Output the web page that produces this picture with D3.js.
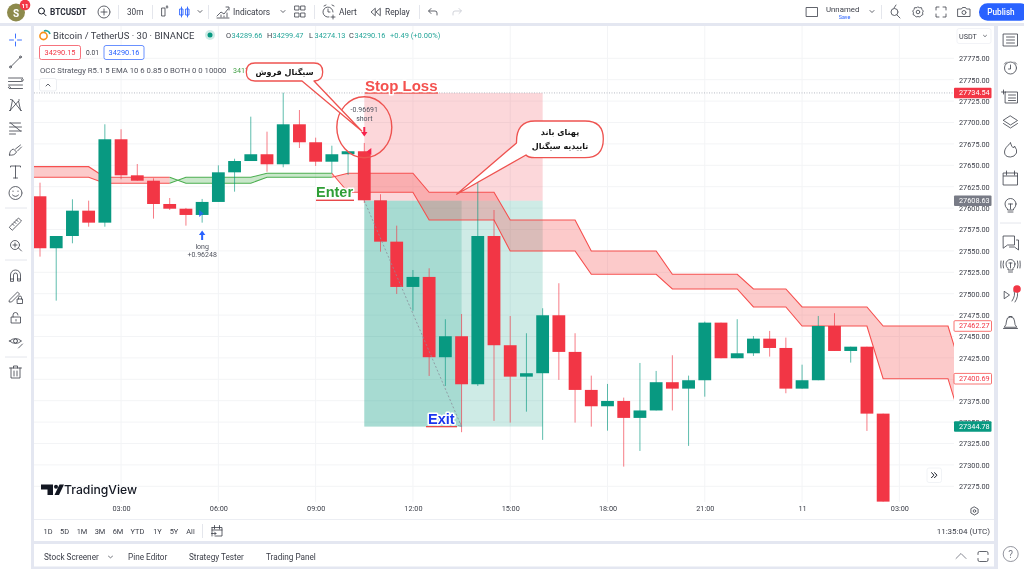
<!DOCTYPE html>
<html><head><meta charset="utf-8">
<style>
html,body{margin:0;padding:0;background:#fff;overflow:hidden}
svg{display:block;filter:blur(.3px)}
text{font-family:Roboto,"Noto Sans",sans-serif}
</style>
<script src="https://cdn.jsdelivr.net/npm/d3@7/dist/d3.min.js"></script>
</head><body><svg id="c" width="1024" height="569"></svg>
<script>
// ---------- data ----------
const opens  = [27613.8,27553.1,27567.4,27597,27583,27680.4,27638.3,27632,27604.8,27599.3,27592,27607.2,27641.8,27655,27662.9,27651.2,27697.9,27676.9,27654.2,27662.9,27666.4,27609.1,27560.8,27507.9,27519.6,27425.8,27450.3,27394.2,27567.4,27439.8,27403.1,27407.1,27474.8,27432,27387.6,27368.5,27374.7,27354.9,27363.6,27396.6,27389.1,27398.9,27466.2,27424.6,27430.4,27447.5,27436.6,27389.1,27398.9,27462.3,27433.1,27438.1,27359.9];
const highs  = [27629.7,27567.4,27610.3,27608.7,27697.9,27692.1,27651.5,27634.8,27611.8,27600.2,27610.7,27650,27657.7,27706.8,27689.3,27734.8,27714.6,27682.3,27672.9,27666.4,27676.1,27616.2,27579.5,27527.7,27529.7,27470.2,27476.3,27630.2,27597.8,27474,27453.8,27483,27512.2,27453.8,27404.3,27394.6,27378.6,27419.1,27409.8,27428.1,27404.3,27467.4,27466.2,27470.2,27450.6,27456.5,27448.7,27417.1,27474,27477.2,27438.1,27438.1,27359.9];
const lows   = [27543.3,27491.9,27558.9,27578.3,27578.3,27633.7,27632,27587.7,27597.8,27579.5,27583,27607.2,27619.2,27655,27642.5,27647.7,27670.2,27649.2,27640.7,27638.7,27606,27549.1,27499.7,27480.2,27403.9,27392.2,27338.2,27392.2,27351.4,27349.4,27362.2,27329.2,27399.3,27349.4,27344.7,27340,27298,27316.3,27363.6,27363.6,27322.2,27379.7,27424.6,27424.6,27427.3,27426.5,27383.7,27389.1,27398.9,27433.1,27419.5,27339.7,27257.1];
const closes = [27553.1,27567.4,27597,27583,27680.4,27638.3,27632,27604.8,27599.3,27592,27607.2,27641.8,27655,27662.9,27651.2,27697.9,27676.9,27654.2,27662.9,27666.4,27609.1,27560.8,27507.9,27519.6,27425.8,27450.3,27394.2,27567.4,27439.8,27403.1,27407.1,27474.8,27432,27387.6,27368.5,27374.7,27354.9,27363.6,27396.6,27389.1,27398.9,27466.2,27424.6,27430.4,27447.5,27436.6,27389.1,27398.9,27462.3,27433.1,27438.1,27359.9,27257.1];

const bandStepBars = [-1,4,9,14,19,24,29,34,39,44,47,52,57];
const bandLineA    = [27648.4,27636,27629,27636,27640.7,27618.5,27586.1,27549.9,27522.7,27505.5,27484.5,27462.27,27400.69];
const bandLineB    = [27636,27629,27636,27640.7,27618.5,27586.1,27549.9,27522.7,27505.5,27484.5,27462.27,27400.69,27339];
const bandTrend    = ["r","r","g","g","r","r","r","r","r","r","r","r","r"];

const priceTicks = [27775,27750,27725,27700,27675,27650,27625,27600,27575,27550,27525,27500,27475,27450,27425,27400,27375,27350,27325,27300,27275];
const timeTickBars = [5,11,17,23,29,35,41,47,53];
const timeTickLabels = ["03:00","06:00","09:00","12:00","15:00","18:00","21:00","11","03:00"];

const entryPrice = 27608.63, stopPrice = 27734.54, targetPrice = 27344.78;
const positionBars = [20,31], exitBar = 26;
const tagValues = [27734.54,27608.63,27462.27,27400.69,27344.78];
const tagKinds  = ["red","gray","outline","outline","green"];
const rangeLabels = ["1D","5D","1M","3M","6M","YTD","1Y","5Y","All"];
const bottomTabs = ["Stock Screener","Pine Editor","Strategy Tester","Trading Panel"];

// ---------- scales ----------
const x = d3.scaleLinear().domain([0,56]).range([40,948]);
const y = d3.scaleLinear().domain([27775,27275]).range([58.3,486.3]);
const GREEN="#089981", RED="#f23645", BLUE="#2962ff", INK="#3a3d47", LAV="#e4e7f1";

const svg = d3.select("#c");
svg.append("defs").append("clipPath").attr("id","cp").append("rect").attr("x",34).attr("y",26).attr("width",920).attr("height",476);

function R(g,a,b,w,h,f){return g.append("rect").attr("x",a).attr("y",b).attr("width",w).attr("height",h).attr("fill",f);}
function T(g,a,b,s,size,fill,anchor,weight){return g.append("text").attr("x",a).attr("y",b).text(s).attr("font-size",size).attr("fill",fill||INK).attr("text-anchor",anchor||"start").attr("font-weight",weight||400).attr("dominant-baseline","central");}
function I(g,a,b,d,c,w){return g.append("path").attr("transform",`translate(${a},${b})`).attr("d",d).attr("fill","none").attr("stroke",c||INK).attr("stroke-width",w||0.8).attr("stroke-linecap","round").attr("stroke-linejoin","round");}

// ---------- frame ----------
R(svg,0,23,1024,3,LAV); R(svg,31,23,3,546,LAV); R(svg,994,23,4,546,LAV);
R(svg,34,541,960,3,LAV); R(svg,34,566.5,960,2.5,LAV);
svg.append("line").attr("x1",34).attr("x2",994).attr("y1",519.5).attr("y2",519.5).attr("stroke","#eceef3");

// ---------- grid ----------
const grid = svg.append("g").attr("stroke","#f3f4f6").attr("stroke-width",1);
grid.selectAll("line.h").data(priceTicks).join(e=>e.append("line").attr("class","h")).attr("x1",34).attr("x2",954).attr("y1",d=>y(d)).attr("y2",d=>y(d));
grid.selectAll("line.v").data(timeTickBars).join(e=>e.append("line").attr("class","v")).attr("x1",d=>x(d)).attr("x2",d=>x(d)).attr("y1",26).attr("y2",502);

const plot = svg.append("g").attr("clip-path","url(#cp)");

// ---------- position tool ----------
const px0=x(positionBars[0]), px1=x(positionBars[1]);
R(plot,px0,y(stopPrice),px1-px0,y(entryPrice)-y(stopPrice),"#f23645").attr("opacity",.2);
R(plot,px0,y(entryPrice),px1-px0,y(targetPrice)-y(entryPrice),"#089981").attr("opacity",.2);
R(plot,px0,y(entryPrice),x(exitBar)-px0,y(targetPrice)-y(entryPrice),"#089981").attr("opacity",.2);
plot.append("line").attr("x1",34).attr("x2",954).attr("y1",y(stopPrice)).attr("y2",y(stopPrice))
  .attr("stroke","#b8bbc4").attr("stroke-width",1).attr("stroke-dasharray","1 1.5");

// ---------- band ----------
const pts=[];
bandStepBars.forEach((s,k)=>{const e=k+1<bandStepBars.length?bandStepBars[k+1]:s+1;for(let i=s;i<e;i++)pts.push({b:i,a:bandLineA[k],l:bandLineB[k],t:bandTrend[k]});});
const area=d3.area().x(d=>x(d.b)).y0(d=>y(d.a)).y1(d=>y(d.l));
const la=d3.line().x(d=>x(d.b)).y(d=>y(d.a)), lb=d3.line().x(d=>x(d.b)).y(d=>y(d.l));
const colourOf=t=>t==="g"?"#4caf50":"#f6504f";
const segs=[];
{let s=0;while(s<pts.length-1){const t=pts[s+1].t;let e=s+1;while(e<pts.length-1&&pts[e+1].t===t)e++;segs.push({t,p:pts.slice(s,e+1)});s=e;}}
const bandG=plot.append("g");
segs.forEach(sg=>{
  bandG.append("path").attr("d",area(sg.p)).attr("fill",colourOf(sg.t)).attr("opacity",.3);
  bandG.append("path").attr("d",la(sg.p)).attr("fill","none").attr("stroke",colourOf(sg.t)).attr("stroke-width",1.1);
  bandG.append("path").attr("d",lb(sg.p)).attr("fill","none").attr("stroke",colourOf(sg.t)).attr("stroke-width",1.1);
});

// ---------- candles ----------
const candles=opens.map((o,i)=>({i,o,h:highs[i],l:lows[i],c:closes[i]}));
const col=d=>d.c>=d.o?GREEN:RED;
const cg=plot.append("g");
cg.selectAll("line").data(candles).join("line").attr("x1",d=>x(d.i)).attr("x2",d=>x(d.i))
  .attr("y1",d=>y(d.h)).attr("y2",d=>y(d.l)).attr("stroke",col).attr("stroke-width",1).attr("opacity",.65);
cg.selectAll("rect").data(candles).join("rect").attr("x",d=>x(d.i)-6.4).attr("width",12.8)
  .attr("y",d=>y(Math.max(d.o,d.c))).attr("height",d=>Math.max(1,Math.abs(y(d.o)-y(d.c)))).attr("fill",col);

// position path
plot.append("line").attr("x1",px0).attr("y1",y(entryPrice)).attr("x2",x(exitBar)).attr("y2",y(targetPrice))
  .attr("stroke","#8a8e99").attr("stroke-width",.8).attr("stroke-dasharray","2 2");
I(plot,x(exitBar),y(targetPrice),"M-3,-1L0,0L-1,-3","#8a8e99",.8);

// ---------- strategy markers ----------
function arrow(g,a,b,dir,c){
  g.append("path").attr("d",`M${a-1},${b-5*dir}L${a+1},${b-5*dir}L${a+1},${b}L${a+3.2},${b}L${a},${b+4.5*dir}L${a-3.2},${b}L${a-1},${b}Z`).attr("fill",c);
}
const xLong=x(10), xShort=x(20);
arrow(svg,xLong,235,-1,BLUE);
T(svg,xLong,247,"long",7,"#50535e","middle");
T(svg,xLong,255,"+0.96248",7,"#50535e","middle");
T(svg,xShort,109.5,"-0.96691",7,"#50535e","middle");
T(svg,xShort,119,"short",7,"#50535e","middle");
arrow(svg,xShort,132,1,"#f7234b");
svg.append("path").attr("d",`M${xLong-3},210l4.5,3.5l-4.5,3.5z`).attr("fill",BLUE).attr("opacity",.8);
svg.append("path").attr("d",`M${xShort+7},148l-4.5,3.5l4.5,3.5z`).attr("fill","#f7234b");

// ---------- axes ----------
const ay=svg.append("g").attr("transform","translate(954,0)").call(d3.axisRight(y).tickValues(priceTicks).tickFormat(d3.format(".2f")).tickSize(0).tickPadding(5));
ay.select(".domain").remove(); ay.selectAll("text").attr("font-size",7.3).attr("fill",INK).style("font-family","Roboto");
const ax=svg.append("g").attr("transform","translate(0,503)").call(d3.axisBottom(x).tickValues(timeTickBars).tickFormat((d,i)=>timeTickLabels[i]).tickSize(0).tickPadding(3));
ax.select(".domain").remove(); ax.selectAll("text").attr("font-size",7.3).attr("fill",INK).style("font-family","Roboto");

// price tags: they sit over the axis labels they cover, as on the reference
const tg=svg.append("g");
tagValues.forEach((v,i)=>{
  const k=tagKinds[i],yy=y(v);
  const f=k==="red"?RED:k==="gray"?"#787b86":k==="green"?GREEN:"#fff";
  const r=R(tg,954,yy-5.3,37.5,10.6,f).attr("rx",1);
  if(k==="outline")r.attr("stroke","#f6504f").attr("stroke-width",.8);
  T(tg,959,yy,d3.format(".2f")(v),7.3,k==="outline"?"#f23645":"#fff");
});

// ---------- legend ----------
const lg=svg.append("g");
lg.append("circle").attr("cx",43.5).attr("cy",36).attr("r",3.6).attr("fill","none").attr("stroke","#f7931a").attr("stroke-width",1.6);
lg.append("path").attr("d","M44,31 A4.5,4.5 0 0 1 50,34").attr("fill","none").attr("stroke","#26a69a").attr("stroke-width",1.6);
T(lg,53,35.5,"Bitcoin / TetherUS · 30 · BINANCE",9.5,INK);
lg.append("circle").attr("cx",210).attr("cy",35).attr("r",5).attr("fill","#089981").attr("opacity",.2);
lg.append("circle").attr("cx",210).attr("cy",35).attr("r",2.5).attr("fill","#089981");
[["O","34289.66",226],["H","34299.47",267],["L","34274.13",309],["C","34290.16",349]].forEach(([k,v,a])=>{T(lg,a,35.5,k,7.4,INK);T(lg,a+5.5,35.5,v,7.4,"#26a69a");});
T(lg,390,35.5,"+0.49 (+0.00%)",7.5,"#26a69a");
R(lg,39.5,45.5,41,14,"#fff").attr("stroke","#f23645").attr("stroke-width",.7).attr("rx",2);
T(lg,60,52.8,"34290.15",7.4,"#f23645","middle");
T(lg,86,52.8,"0.01",6.6,INK);
R(lg,104,45.5,40,14,"#fff").attr("stroke",BLUE).attr("stroke-width",.7).attr("rx",2);
T(lg,124,52.8,"34290.16",7.4,BLUE,"middle");
T(lg,40,70,"OCC Strategy R5.1 5 EMA 10 6 0.85 0 BOTH 0 0 10000",7.75,"#50535e");
T(lg,233,70,"3417",7.1,"#43a047");
R(lg,39.5,78.5,17,12.5,"#fff").attr("stroke","#e4e6ec").attr("stroke-width",.7).attr("rx",2);
I(lg,48,85,"M-2,1L0,-1L2,1",INK,.8);
R(lg,957,28.5,34,15,"#fff").attr("stroke","#eceef3").attr("stroke-width",.7).attr("rx",2);
T(lg,959,36,"USDT",7.2,INK);
I(lg,985,36,"M-1.5,-.7L0,.7L1.5,-.7",INK,.7);

// ---------- annotations ----------
function halo(t,w){t.attr("stroke","#fff").attr("stroke-width",w||3).attr("paint-order","stroke").attr("stroke-linejoin","round").style("font-family","'Liberation Sans',Arial,sans-serif");return t;}
const an=svg.append("g");
R(an,365,92.3,73,1.4,"#f0504c");
R(an,316,199.6,38,1.4,"#e8484a");
R(an,426,426,31,1.3,"#e8484a");
halo(T(an,365,85,"Stop Loss",15,"#f4514e","start",700));
halo(T(an,316,192,"Enter",14.5,"#2f9e36","start",700));
halo(T(an,428,418.5,"Exit",14.5,"#1a36ee","start",700));

an.append("ellipse").attr("cx",364.3).attr("cy",127.2).attr("rx",27.5).attr("ry",30.5).attr("fill","none").attr("stroke","#ee5350").attr("stroke-width",1.4);
const bubbleCol="#ee5350";
an.append("path").attr("d","M255,63 H314 Q322.7,63 322.7,72 Q322.7,81 314,81 L361.7,131 L302,81 H255 Q246.3,81 246.3,72 Q246.3,63 255,63Z")
  .attr("fill","#fff").attr("stroke",bubbleCol).attr("stroke-width",1.3).attr("stroke-linejoin","round");
T(an,284.5,72,"سیگنال فروش",8,"#111","middle",700).style("font-family","'DejaVu Sans'").attr("direction","rtl");
an.append("path").attr("d","M535,121 H585 Q603.3,121 603.3,139 Q603.3,157.7 585,157.7 H535 Q528,157.7 526,155 L456.7,194.3 L516.5,143 Q516,121 535,121Z")
  .attr("fill","#fff").attr("stroke",bubbleCol).attr("stroke-width",1.3).attr("stroke-linejoin","round");
T(an,560,132,"پهنای باند",8,"#111","middle",700).style("font-family","'DejaVu Sans'").attr("direction","rtl");
T(an,560,146,"تاییدیه سیگنال",8,"#111","middle",700).style("font-family","'DejaVu Sans'").attr("direction","rtl");

// TradingView logo + misc
svg.append("path").attr("d","M41,484.5H53V495H47.5V489.5H41Z M58,486.8a2,2 0 1 1 -4,0a2,2 0 1 1 4,0Z M59,495H54.5L59.5,484.5H64Z").attr("fill","#131722");
T(svg,64,489.5,"TradingView",12.2,"#131722","start",500).style("font-family","Inter,Roboto");
R(svg,927,468,14.5,14.5,"#fff").attr("rx",2).attr("stroke","#eef0f4").attr("stroke-width",.8);
I(svg,934,475.2,"M-2.5,-2.5L0,0L-2.5,2.5M.5,-2.5L3,0L.5,2.5","#131722",1);
I(svg,974.5,511,"M0,-4L3.6,-2V2L0,4L-3.6,2V-2Z M1.3,0a1.3,1.3 0 1 0 -2.6,0a1.3,1.3 0 1 0 2.6,0",INK,.8);
T(svg,990,531,"11:35:04 (UTC)",8,INK,"end");

// ---------- range row ----------
[48,64.5,82,100,118,137.5,157.5,174,190.5].forEach((a,i)=>T(svg,a,531,rangeLabels[i],7.4,INK,"middle"));
svg.append("line").attr("x1",202.5).attr("x2",202.5).attr("y1",524).attr("y2",538).attr("stroke","#e4e6ec");
I(svg,217,531,"M-5,-3.5H5V5H-2 M-5,5V-3.5 M-5,-1H5 M-2.5,-5.5V-2 M2.5,-5.5V-2 M-5.5,2.5H-1L-2.5,1 M-1,2.5L-2.5,4",INK,.8);

// ---------- bottom tabs ----------
[[44,bottomTabs[0]],[128,bottomTabs[1]],[189,bottomTabs[2]],[266,bottomTabs[3]]].forEach(([a,s])=>T(svg,a,557,s,8.2,INK));
I(svg,110.5,557,"M-2,-.8L0,.8L2,-.8",INK,.7);
I(svg,961,556,"M-5,2.5L0,-2.5L5,2.5","#787b86",.9);
I(svg,983,556.5,"M-5,-2V-3.5Q-5,-5 -3.5,-5H3.5Q5,-5 5,-3.5V-2 M5,2V3.5Q5,5 3.5,5H-3.5Q-5,5 -5,3.5V2",INK,.8);
svg.append("circle").attr("cx",1010.7).attr("cy",554).attr("r",7.5).attr("fill","none").attr("stroke","#787b86").attr("stroke-width",.8);
T(svg,1010.7,554,"?",10,"#787b86","middle");

// ---------- top toolbar ----------
const tb=svg.append("g");
tb.append("circle").attr("cx",16).attr("cy",12.5).attr("r",9).attr("fill","#8d8a4c");
T(tb,16,13,"S",10,"#fff","middle",700);
tb.append("circle").attr("cx",25).attr("cy",5).attr("r",5.3).attr("fill","#f23645");
T(tb,25,5.3,"11",6,"#fff","middle",700);
I(tb,41.5,11,"M3,0a3,3 0 1 0 -6,0a3,3 0 1 0 6,0M2,2.2L4.5,4.7","#131722",1);
T(tb,50,12,"BTCUSDT",8.3,"#2a2e39","start",700);
I(tb,104,12,"M6,0a6,6 0 1 0 -12,0a6,6 0 1 0 12,0M-3,0H3M0,-3V3",INK,.8);
T(tb,127,12,"30m",8.2,INK);
[118.5,152.5,208.5,314.5,419.5,881.5].forEach(a=>tb.append("line").attr("x1",a).attr("x2",a).attr("y1",5).attr("y2",19).attr("stroke","#e4e6ec"));
I(tb,164,12,"M-2,-4H1V4H-2Z M3,-6a1,1 0 1 0 .01,0",INK,.8);
I(tb,184,12,"M-4,-3H-1V3H-4Z M-2.5,-5V5 M2,-3H5V3H2Z M3.5,-5V5",BLUE,.9);
I(tb,200,11.5,"M-2,-1L0,1L2,-1",INK,.8);
I(tb,223,12,"M-6,6H6 M-6,4L-2,0L1,2L5,-3 M-2,5V3 M1,5V4 M4,5V1 M3,-5L6,-5L6,-2",INK,.8);
T(tb,233,12,"Indicators",8.4,INK);
I(tb,283,11.5,"M-2,-1L0,1L2,-1",INK,.8);
I(tb,300,12,"M-5,-6H-1V-2H-5Z M1,-6H5V-2H1Z M-5,1H-1V5H-5Z M1,1H5V5H1Z",INK,.8);
I(tb,329,12,"M4,0a5,5 0 1 0 -4,5 M-1,-3V0H1 M-5,-6L-3,-7 M5,-6L3,-7 M4,3V7 M2,5H6",INK,.8);
T(tb,339,12,"Alert",8.4,INK);
I(tb,376,12,"M-1,-3.5L-5,0L-1,3.5Z M4,-3.5L0,0L4,3.5Z",INK,.8);
T(tb,385,12,"Replay",8.4,INK);
I(tb,433,12,"M4,3V1Q4,-1 2,-1H-4 M-2,-3.5L-4.5,-1L-2,1.5",INK,.8);
I(tb,457,12,"M-4,3V1Q-4,-1 -2,-1H4 M2,-3.5L4.5,-1L2,1.5","#c5c8d0",.8);
I(tb,812,12,"M-5.5,-4.5H5.5V4.5H-5.5Z",INK,.8);
T(tb,826,9,"Unnamed",7.8,INK);
T(tb,844.5,16.5,"Save",5.4,BLUE,"middle");
I(tb,872,11.5,"M-2,-1L0,1L2,-1",INK,.8);
I(tb,895,12,"M3,0a3.5,3.5 0 1 0 -7,0a3.5,3.5 0 1 0 7,0M2,3L5,6 M-1,-4L1,-7",INK,.8);
I(tb,918,12,"M0,-5L1.5,-4.3L3.5,-4.3L4,-2.5L5.3,-1L4.5,0.8L5,2.5L3.2,3.5L1.8,5L0,4.5L-1.8,5L-3.2,3.5L-5,2.5L-4.5,0.8L-5.3,-1L-4,-2.5L-3.5,-4.3L-1.5,-4.3Z M1.8,0a1.8,1.8 0 1 0 -3.6,0a1.8,1.8 0 1 0 3.6,0",INK,.8);
I(tb,941,12,"M-5,-2V-5H-2 M2,-5H5V-2 M5,2V5H2 M-2,5H-5V2",INK,.8);
I(tb,964,12,"M-6,-3H-2.5L-1.5,-4.5H1.5L2.5,-3H6V4.5H-6Z M2,0.5a2,2 0 1 0 -4,0a2,2 0 1 0 4,0",INK,.8);
R(tb,979,3.2,50,17.5,BLUE).attr("rx",8.5);
T(tb,1001,12.3,"Publish",8.2,"#fff","middle",500);

// ---------- left tools ----------
const lt=svg.append("g");
I(lt,15.5,40,"M0,-6V-2 M0,2V6 M-6,0H-2 M2,0H6",BLUE,.9);
I(lt,15.5,62,"M-5,5L5,-5 M-4,5a1,1 0 1 0 -2,0a1,1 0 1 0 2,0 M6,-5a1,1 0 1 0 -2,0a1,1 0 1 0 2,0");
I(lt,15.5,83,"M-7,-5H7 M-7,-1.5H6 M-7,2H7 M-5,5.5H7 M7,-2a1,1 0 1 0 -.1,0 M-6,5.5a1,1 0 1 0 -.1,0");
I(lt,15.5,105,"M-5,5L-3,-5L5,5L3,-4L-5,5 M-6,5.5H-5 M-5,-5.5L-3,-5 M3,-5H4 M5,5.5H6");
I(lt,15.5,128,"M-6,-5H5 M-6,-1H6 M-6,3H6 M-6,6H0 M-5,-5L5,3");
I(lt,15.5,150,"M-6,5Q-6,0 -2,-1L1,2Q-1,6 -6,5Z M0,-1L5,-5 M2,1L6,-3");
I(lt,15.5,172,"M-5,-5V-6H5V-5 M0,-6V6 M-2,6H2");
I(lt,15.5,193,"M6.5,0a6.5,6.5 0 1 0 -13,0a6.5,6.5 0 1 0 13,0 M-3,2Q0,5 3,2 M-2.5,-2v.5 M2.5,-2v.5");
I(lt,15.5,224,"M-6,3L3,-6L6,-3L-3,6Z M-3,0L-1.5,1.5 M-1,-2L.5,-.5 M1,-4L2.5,-2.5");
I(lt,15.5,245,"M4,0a4.5,4.5 0 1 0 -9,0a4.5,4.5 0 1 0 9,0 M3,3L6,6 M-2.5,0H1.5 M-.5,-2V2");
[208,260,357].forEach(v=>lt.append("line").attr("x1",5).attr("x2",27).attr("y1",v).attr("y2",v).attr("stroke","#e4e6ec"));
I(lt,15.5,276,"M-5,5V-1a5,5 0 0 1 10,0V5H2V-1a2,2 0 0 0 -4,0V5Z M-5,3H-2 M2,3H5");
I(lt,15.5,297,"M-6,3L2,-5L4,-3L-4,5L-6,5Z M2,2H7V6.5H2Z M3,2V0.5a1.5,1.5 0 0 1 3,0V2");
I(lt,15.5,318,"M-4,-1H5V5H-4Z M-2.5,-1V-3a2.5,2.5 0 0 1 5,0 M.5,1.5V3");
I(lt,15.5,342,"M-6,-1Q0,-6 6,-1Q0,4 -6,-1Z M2,-1a2,2 0 1 0 -4,0a2,2 0 1 0 4,0 M3,6L7,2");
I(lt,15.5,372,"M-6,-4H6 M-2,-4V-6H2V-4 M-4.5,-4V6H4.5V-4 M-1.5,-1V4 M1.5,-1V4");

// ---------- right tools ----------
const rt=svg.append("g"), RX=1010.5;
I(rt,RX,40,"M-7,-6H7V6H-7Z M-4,-3H4 M-4,0H4 M-4,3H4");
I(rt,RX,68,"M6,0a6,6 0 1 0 -12,0a6,6 0 1 0 12,0 M0,-3V1H-2 M-6,-4L-4,-6 M6,-4L4,-6");
I(rt,RX,97,"M-5,-5H7V6H-5Z M-2,-2H5 M-2,1H5 M-2,3.5H5 M-9,-5H-5 M-7,-7V-3");
I(rt,RX,122,"M0,-6L7,-1.5L0,3L-7,-1.5Z M-7,1.5L0,6L7,1.5");
I(rt,RX,150,"M0,-7Q1,-3 3,-2Q4,-4 4,-4Q7,0 6,3Q4,7 0,7Q-6,7 -6,2Q-6,-2 0,-7Z");
I(rt,RX,178,"M-7,-5H7V7H-7Z M-7,-2H7 M-4,-7V-3 M4,-7V-3");
I(rt,RX,205,"M5.5,-1a5.5,5.5 0 1 0 -11,0Q-5.5,2 -3,4V5H3V4Q5.5,2 5.5,-1Z M-2.5,7H2.5 M-2,-1H2 M0,-1V4");
I(rt,RX,242,"M-7,-6H4V3H-3L-7,6Z M6,-2H8V8L4,5H-1");
I(rt,RX,265,"M4.5,-1a4.5,4.5 0 1 0 -9,0Q-4.5,2 -2.5,3.5V5H2.5V3.5Q4.5,2 4.5,-1Z M-2,7H2 M-1.5,-2H1.5 M0,-2V3 M-7,-4Q-8,0 -7,3 M7,-4Q8,0 7,3 M-9.5,-4Q-10,0 -9.5,3 M9.5,-4Q10,0 9.5,3");
I(rt,1007,295,"M-2.5,-3.5L2.5,0L-2.5,3.5Z");
I(rt,1013,295,"M1,-4Q3,0 -1,6 M4,-4Q6,1 2,7");
rt.append("circle").attr("cx",1017).attr("cy",289).attr("r",3.8).attr("fill","#f23645");
I(rt,RX,322,"M-6,5Q-4,3 -4,-1a4,4 0 0 1 8,0Q4,3 6,5Z M-7,6.5H7 M-1.5,-5.5H1.5");
rt.append("line").attr("x1",1000).attr("x2",1021).attr("y1",223).attr("y2",223).attr("stroke","#e4e6ec");
</script></body></html>
